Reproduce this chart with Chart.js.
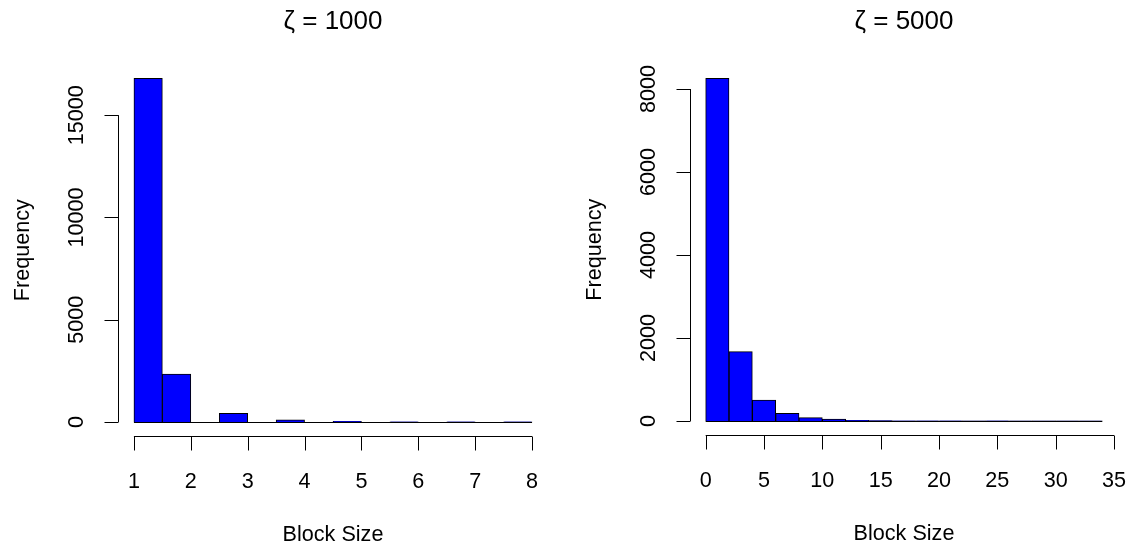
<!DOCTYPE html>
<html>
<head>
<meta charset="utf-8">
<script src="https://cdn.jsdelivr.net/npm/chart.js@4/dist/chart.umd.min.js"></script>
<style>
  html, body { margin: 0; padding: 0; background: #fff; }
  #wrap { position: relative; width: 1135px; height: 550px; }
  canvas { position: absolute; top: 0; }
</style>
</head>
<body>
<div id="wrap">
  <canvas id="left" width="567" height="550" style="left:0"></canvas>
  <canvas id="right" width="568" height="550" style="left:567px"></canvas>
</div>
<script>
// zeta = 1000: bins of width 0.5 from 1 to 8
const leftTitle = 'ζ = 1000';
const leftBreaks = [1, 1.5, 2, 2.5, 3, 3.5, 4, 4.5, 5, 5.5, 6, 6.5, 7, 7.5, 8];
const leftCounts = [16800, 2340, 0, 425, 0, 100, 0, 25, 0, 8, 0, 4, 0, 2];
const leftXTicks = [1, 2, 3, 4, 5, 6, 7, 8];
const leftYTicks = [0, 5000, 10000, 15000];

// zeta = 5000: bins of width 2 from 0 to 34
const rightTitle = 'ζ = 5000';
const rightBreaks = [0, 2, 4, 6, 8, 10, 12, 14, 16, 18, 20, 22, 24, 26, 28, 30, 32, 34];
const rightCounts = [8258, 1670, 506, 185, 80, 48, 17, 8, 5, 3, 2, 1, 2, 1, 1, 1, 1];
const rightXTicks = [0, 5, 10, 15, 20, 25, 30, 35];
const rightYTicks = [0, 2000, 4000, 6000, 8000];

const FONT = '"Liberation Sans", Arial, Helvetica, sans-serif';

// R-style detached axes, labels and title
const rAxes = {
  id: 'rAxes',
  afterDraw(chart, args, o) {
    const { ctx, chartArea: a } = chart;
    const xs = chart.scales.x, ys = chart.scales.y;
    ctx.save();
    ctx.strokeStyle = '#000';
    ctx.fillStyle = '#000';
    ctx.lineWidth = 1;

    // zero-height bins drawn as a line, like R does
    const y0 = Math.round(ys.getPixelForValue(0)) + 0.5;
    ctx.beginPath();
    ctx.moveTo(xs.getPixelForValue(o.breaks[0]), y0);
    ctx.lineTo(xs.getPixelForValue(o.breaks[o.breaks.length - 1]), y0);
    ctx.stroke();

    // x axis
    const by = Math.round(a.bottom) + 0.5;
    ctx.beginPath();
    ctx.moveTo(xs.getPixelForValue(o.xTicks[0]), by);
    ctx.lineTo(xs.getPixelForValue(o.xTicks[o.xTicks.length - 1]), by);
    o.xTicks.forEach(t => {
      const px = Math.round(xs.getPixelForValue(t)) + 0.5;
      ctx.moveTo(px, by);
      ctx.lineTo(px, by + 14);
    });
    ctx.stroke();
    ctx.font = '21.6px ' + FONT;
    ctx.textAlign = 'center';
    ctx.textBaseline = 'middle';
    o.xTicks.forEach(t => ctx.fillText(String(t), xs.getPixelForValue(t), by + 46));
    ctx.fillText('Block Size', (a.left + a.right) / 2, by + 99);

    // y axis
    const lx = Math.round(a.left) + 0.5;
    ctx.beginPath();
    ctx.moveTo(lx, ys.getPixelForValue(o.yTicks[0]));
    ctx.lineTo(lx, ys.getPixelForValue(o.yTicks[o.yTicks.length - 1]));
    o.yTicks.forEach(t => {
      const py = Math.round(ys.getPixelForValue(t)) + 0.5;
      ctx.moveTo(lx, py);
      ctx.lineTo(lx - 14, py);
    });
    ctx.stroke();
    o.yTicks.forEach(t => {
      ctx.save();
      ctx.translate(lx - 41, ys.getPixelForValue(t));
      ctx.rotate(-Math.PI / 2);
      ctx.fillText(String(t), 0, 0);
      ctx.restore();
    });
    ctx.save();
    ctx.translate(lx - 95, (a.top + a.bottom) / 2);
    ctx.rotate(-Math.PI / 2);
    ctx.fillText('Frequency', 0, 0);
    ctx.restore();

    // title
    ctx.font = '26px ' + FONT;
    ctx.fillText(o.title, (a.left + a.right) / 2, a.top - 43);
    ctx.restore();
  }
};

function makeHist(id, title, breaks, counts, xTicks, yTicks, pad) {
  const mids = counts.map((c, i) => ({ x: (breaks[i] + breaks[i + 1]) / 2, y: c }));
  const lo = breaks[0], hi = breaks[breaks.length - 1];
  const xr = (hi - lo) * 0.04;
  const ymax = Math.max(...counts);
  new Chart(document.getElementById(id), {
    type: 'bar',
    data: {
      datasets: [{
        data: mids,
        backgroundColor: '#0000ff',
        borderColor: '#000',
        borderWidth: 1,
        barPercentage: 1,
        categoryPercentage: 1
      }]
    },
    options: {
      responsive: false,
      animation: false,
      layout: { padding: pad },
      plugins: {
        legend: { display: false },
        tooltip: { enabled: false },
        rAxes: { title, breaks, xTicks, yTicks }
      },
      scales: {
        x: { type: 'linear', display: false, min: lo - xr, max: hi + xr, offset: false },
        y: { display: false, min: -ymax * 0.04, max: ymax * 1.04 }
      }
    },
    plugins: [rAxes]
  });
}

makeHist('left', leftTitle, leftBreaks, leftCounts, leftXTicks, leftYTicks,
  { left: 118, right: 19, top: 64.6, bottom: 114.3 });
makeHist('right', rightTitle, rightBreaks, rightCounts, rightXTicks, rightYTicks,
  { left: 122.8, right: 16.8, top: 64.6, bottom: 115.3 });
</script>
</body>
</html>
